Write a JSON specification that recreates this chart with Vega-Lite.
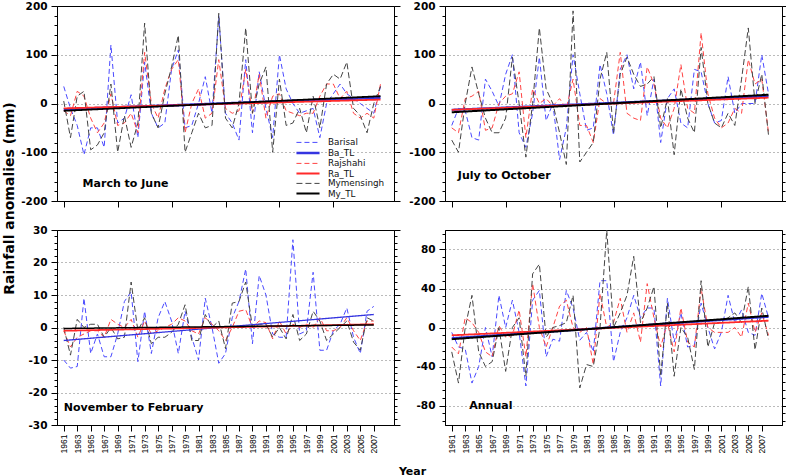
{
  "$schema": "https://vega.github.io/schema/vega-lite/v6.json",
  "padding": {"left": 1, "top": 0, "right": 2, "bottom": 2},
  "background": "white",
  "datasets": {
    "obs": [
      {"p":"MJ","year":1961,"Barisal":35,"Rajshahi":-15,"Mymensingh":5},
      {"p":"MJ","year":1962,"Barisal":-10,"Rajshahi":-25,"Mymensingh":-70},
      {"p":"MJ","year":1963,"Barisal":-45,"Rajshahi":25,"Mymensingh":15},
      {"p":"MJ","year":1964,"Barisal":-105,"Rajshahi":15,"Mymensingh":25},
      {"p":"MJ","year":1965,"Barisal":-50,"Rajshahi":-30,"Mymensingh":-95},
      {"p":"MJ","year":1966,"Barisal":-50,"Rajshahi":-60,"Mymensingh":-85},
      {"p":"MJ","year":1967,"Barisal":-90,"Rajshahi":-40,"Mymensingh":-60},
      {"p":"MJ","year":1968,"Barisal":120,"Rajshahi":20,"Mymensingh":40},
      {"p":"MJ","year":1969,"Barisal":-40,"Rajshahi":-45,"Mymensingh":-100},
      {"p":"MJ","year":1970,"Barisal":-30,"Rajshahi":-40,"Mymensingh":-25},
      {"p":"MJ","year":1971,"Barisal":18,"Rajshahi":-20,"Mymensingh":-90},
      {"p":"MJ","year":1972,"Barisal":-70,"Rajshahi":-60,"Mymensingh":-40},
      {"p":"MJ","year":1973,"Barisal":85,"Rajshahi":105,"Mymensingh":165},
      {"p":"MJ","year":1974,"Barisal":-20,"Rajshahi":0,"Mymensingh":-20},
      {"p":"MJ","year":1975,"Barisal":-50,"Rajshahi":-30,"Mymensingh":-50},
      {"p":"MJ","year":1976,"Barisal":-40,"Rajshahi":30,"Mymensingh":20},
      {"p":"MJ","year":1977,"Barisal":70,"Rajshahi":70,"Mymensingh":75},
      {"p":"MJ","year":1978,"Barisal":110,"Rajshahi":90,"Mymensingh":140},
      {"p":"MJ","year":1979,"Barisal":-50,"Rajshahi":-60,"Mymensingh":-100},
      {"p":"MJ","year":1980,"Barisal":-45,"Rajshahi":0,"Mymensingh":-60},
      {"p":"MJ","year":1981,"Barisal":0,"Rajshahi":30,"Mymensingh":-20},
      {"p":"MJ","year":1982,"Barisal":55,"Rajshahi":-30,"Mymensingh":-50},
      {"p":"MJ","year":1983,"Barisal":-20,"Rajshahi":-20,"Mymensingh":-45},
      {"p":"MJ","year":1984,"Barisal":180,"Rajshahi":90,"Mymensingh":185},
      {"p":"MJ","year":1985,"Barisal":-20,"Rajshahi":-10,"Mymensingh":-30},
      {"p":"MJ","year":1986,"Barisal":-40,"Rajshahi":-20,"Mymensingh":-50},
      {"p":"MJ","year":1987,"Barisal":-75,"Rajshahi":-15,"Mymensingh":0},
      {"p":"MJ","year":1988,"Barisal":90,"Rajshahi":70,"Mymensingh":155},
      {"p":"MJ","year":1989,"Barisal":-60,"Rajshahi":-20,"Mymensingh":-20},
      {"p":"MJ","year":1990,"Barisal":65,"Rajshahi":60,"Mymensingh":40},
      {"p":"MJ","year":1991,"Barisal":-10,"Rajshahi":-30,"Mymensingh":75},
      {"p":"MJ","year":1992,"Barisal":-70,"Rajshahi":15,"Mymensingh":-100},
      {"p":"MJ","year":1993,"Barisal":100,"Rajshahi":20,"Mymensingh":50},
      {"p":"MJ","year":1994,"Barisal":30,"Rajshahi":-15,"Mymensingh":-45},
      {"p":"MJ","year":1995,"Barisal":0,"Rajshahi":-20,"Mymensingh":-40},
      {"p":"MJ","year":1996,"Barisal":-20,"Rajshahi":-25,"Mymensingh":-10},
      {"p":"MJ","year":1997,"Barisal":-15,"Rajshahi":-20,"Mymensingh":-60},
      {"p":"MJ","year":1998,"Barisal":-10,"Rajshahi":-20,"Mymensingh":15},
      {"p":"MJ","year":1999,"Barisal":-70,"Rajshahi":15,"Mymensingh":-50},
      {"p":"MJ","year":2000,"Barisal":0,"Rajshahi":40,"Mymensingh":40},
      {"p":"MJ","year":2001,"Barisal":20,"Rajshahi":40,"Mymensingh":60},
      {"p":"MJ","year":2002,"Barisal":40,"Rajshahi":10,"Mymensingh":50},
      {"p":"MJ","year":2003,"Barisal":20,"Rajshahi":25,"Mymensingh":85},
      {"p":"MJ","year":2004,"Barisal":10,"Rajshahi":-20,"Mymensingh":-10},
      {"p":"MJ","year":2005,"Barisal":0,"Rajshahi":-30,"Mymensingh":-25},
      {"p":"MJ","year":2006,"Barisal":-10,"Rajshahi":-20,"Mymensingh":-60},
      {"p":"MJ","year":2007,"Barisal":-20,"Rajshahi":-30,"Mymensingh":0},
      {"p":"MJ","year":2008,"Barisal":35,"Rajshahi":40,"Mymensingh":35},

      {"p":"JO","year":1961,"Barisal":-45,"Rajshahi":-50,"Mymensingh":-75},
      {"p":"JO","year":1962,"Barisal":-10,"Rajshahi":-60,"Mymensingh":-100},
      {"p":"JO","year":1963,"Barisal":-15,"Rajshahi":10,"Mymensingh":0},
      {"p":"JO","year":1964,"Barisal":-70,"Rajshahi":15,"Mymensingh":75},
      {"p":"JO","year":1965,"Barisal":-75,"Rajshahi":25,"Mymensingh":20},
      {"p":"JO","year":1966,"Barisal":50,"Rajshahi":-55,"Mymensingh":-30},
      {"p":"JO","year":1967,"Barisal":25,"Rajshahi":-50,"Mymensingh":-60},
      {"p":"JO","year":1968,"Barisal":-5,"Rajshahi":0,"Mymensingh":-60},
      {"p":"JO","year":1969,"Barisal":60,"Rajshahi":15,"Mymensingh":-30},
      {"p":"JO","year":1970,"Barisal":100,"Rajshahi":20,"Mymensingh":95},
      {"p":"JO","year":1971,"Barisal":-60,"Rajshahi":65,"Mymensingh":0},
      {"p":"JO","year":1972,"Barisal":-90,"Rajshahi":-70,"Mymensingh":-110},
      {"p":"JO","year":1973,"Barisal":-20,"Rajshahi":30,"Mymensingh":0},
      {"p":"JO","year":1974,"Barisal":95,"Rajshahi":0,"Mymensingh":155},
      {"p":"JO","year":1975,"Barisal":-35,"Rajshahi":10,"Mymensingh":30},
      {"p":"JO","year":1976,"Barisal":0,"Rajshahi":-5,"Mymensingh":0},
      {"p":"JO","year":1977,"Barisal":-115,"Rajshahi":10,"Mymensingh":-60},
      {"p":"JO","year":1978,"Barisal":-50,"Rajshahi":-10,"Mymensingh":-125},
      {"p":"JO","year":1979,"Barisal":100,"Rajshahi":50,"Mymensingh":190},
      {"p":"JO","year":1980,"Barisal":20,"Rajshahi":-45,"Mymensingh":-120},
      {"p":"JO","year":1981,"Barisal":-55,"Rajshahi":-45,"Mymensingh":-100},
      {"p":"JO","year":1982,"Barisal":-50,"Rajshahi":-80,"Mymensingh":-80},
      {"p":"JO","year":1983,"Barisal":80,"Rajshahi":10,"Mymensingh":50},
      {"p":"JO","year":1984,"Barisal":20,"Rajshahi":0,"Mymensingh":105},
      {"p":"JO","year":1985,"Barisal":-65,"Rajshahi":0,"Mymensingh":-60},
      {"p":"JO","year":1986,"Barisal":70,"Rajshahi":105,"Mymensingh":60},
      {"p":"JO","year":1987,"Barisal":100,"Rajshahi":-20,"Mymensingh":95},
      {"p":"JO","year":1988,"Barisal":30,"Rajshahi":-30,"Mymensingh":60},
      {"p":"JO","year":1989,"Barisal":85,"Rajshahi":-35,"Mymensingh":35},
      {"p":"JO","year":1990,"Barisal":-25,"Rajshahi":75,"Mymensingh":40},
      {"p":"JO","year":1991,"Barisal":50,"Rajshahi":40,"Mymensingh":55},
      {"p":"JO","year":1992,"Barisal":-80,"Rajshahi":-30,"Mymensingh":-50},
      {"p":"JO","year":1993,"Barisal":10,"Rajshahi":-50,"Mymensingh":10},
      {"p":"JO","year":1994,"Barisal":30,"Rajshahi":-10,"Mymensingh":-105},
      {"p":"JO","year":1995,"Barisal":-40,"Rajshahi":80,"Mymensingh":30},
      {"p":"JO","year":1996,"Barisal":-50,"Rajshahi":-10,"Mymensingh":-30},
      {"p":"JO","year":1997,"Barisal":70,"Rajshahi":-20,"Mymensingh":-60},
      {"p":"JO","year":1998,"Barisal":65,"Rajshahi":145,"Mymensingh":115},
      {"p":"JO","year":1999,"Barisal":0,"Rajshahi":20,"Mymensingh":0},
      {"p":"JO","year":2000,"Barisal":-40,"Rajshahi":-30,"Mymensingh":-40},
      {"p":"JO","year":2001,"Barisal":-35,"Rajshahi":-50,"Mymensingh":-50},
      {"p":"JO","year":2002,"Barisal":55,"Rajshahi":-40,"Mymensingh":-20},
      {"p":"JO","year":2003,"Barisal":-20,"Rajshahi":-10,"Mymensingh":-45},
      {"p":"JO","year":2004,"Barisal":0,"Rajshahi":-20,"Mymensingh":50},
      {"p":"JO","year":2005,"Barisal":0,"Rajshahi":90,"Mymensingh":155},
      {"p":"JO","year":2006,"Barisal":0,"Rajshahi":40,"Mymensingh":0},
      {"p":"JO","year":2007,"Barisal":100,"Rajshahi":50,"Mymensingh":60},
      {"p":"JO","year":2008,"Barisal":20,"Rajshahi":-60,"Mymensingh":-65},

      {"p":"NF","year":1961,"Barisal":-10,"Rajshahi":-1,"Mymensingh":0},
      {"p":"NF","year":1962,"Barisal":-12.5,"Rajshahi":-6,"Mymensingh":-8.5},
      {"p":"NF","year":1963,"Barisal":-12,"Rajshahi":-3,"Mymensingh":2.5},
      {"p":"NF","year":1964,"Barisal":9,"Rajshahi":-2,"Mymensingh":0},
      {"p":"NF","year":1965,"Barisal":-8,"Rajshahi":-1,"Mymensingh":1},
      {"p":"NF","year":1966,"Barisal":-2,"Rajshahi":-1,"Mymensingh":1},
      {"p":"NF","year":1967,"Barisal":-9,"Rajshahi":-3,"Mymensingh":-3},
      {"p":"NF","year":1968,"Barisal":-9,"Rajshahi":2.5,"Mymensingh":0},
      {"p":"NF","year":1969,"Barisal":-2,"Rajshahi":1,"Mymensingh":-3.5},
      {"p":"NF","year":1970,"Barisal":8,"Rajshahi":0,"Mymensingh":-3},
      {"p":"NF","year":1971,"Barisal":11,"Rajshahi":2.5,"Mymensingh":14},
      {"p":"NF","year":1972,"Barisal":-10.5,"Rajshahi":-3,"Mymensingh":-1},
      {"p":"NF","year":1973,"Barisal":5,"Rajshahi":2,"Mymensingh":3},
      {"p":"NF","year":1974,"Barisal":-8,"Rajshahi":-2,"Mymensingh":-5},
      {"p":"NF","year":1975,"Barisal":3,"Rajshahi":-1,"Mymensingh":-3},
      {"p":"NF","year":1976,"Barisal":8,"Rajshahi":0,"Mymensingh":-3},
      {"p":"NF","year":1977,"Barisal":2,"Rajshahi":1,"Mymensingh":-1.5},
      {"p":"NF","year":1978,"Barisal":-8,"Rajshahi":3,"Mymensingh":1},
      {"p":"NF","year":1979,"Barisal":5,"Rajshahi":2,"Mymensingh":7},
      {"p":"NF","year":1980,"Barisal":-3,"Rajshahi":-1,"Mymensingh":-4},
      {"p":"NF","year":1981,"Barisal":-10,"Rajshahi":-2,"Mymensingh":-4},
      {"p":"NF","year":1982,"Barisal":9,"Rajshahi":3,"Mymensingh":4},
      {"p":"NF","year":1983,"Barisal":0,"Rajshahi":1,"Mymensingh":0},
      {"p":"NF","year":1984,"Barisal":-11,"Rajshahi":-1,"Mymensingh":2},
      {"p":"NF","year":1985,"Barisal":-8,"Rajshahi":-4,"Mymensingh":-6.5},
      {"p":"NF","year":1986,"Barisal":3,"Rajshahi":0,"Mymensingh":7.5},
      {"p":"NF","year":1987,"Barisal":8,"Rajshahi":5,"Mymensingh":8},
      {"p":"NF","year":1988,"Barisal":18,"Rajshahi":5.5,"Mymensingh":14},
      {"p":"NF","year":1989,"Barisal":-5,"Rajshahi":0,"Mymensingh":0},
      {"p":"NF","year":1990,"Barisal":16,"Rajshahi":2,"Mymensingh":1},
      {"p":"NF","year":1991,"Barisal":10,"Rajshahi":1.5,"Mymensingh":1},
      {"p":"NF","year":1992,"Barisal":-2,"Rajshahi":-3.5,"Mymensingh":-3},
      {"p":"NF","year":1993,"Barisal":-3,"Rajshahi":2,"Mymensingh":0},
      {"p":"NF","year":1994,"Barisal":-3,"Rajshahi":-2,"Mymensingh":-3.5},
      {"p":"NF","year":1995,"Barisal":27,"Rajshahi":1,"Mymensingh":4},
      {"p":"NF","year":1996,"Barisal":-2,"Rajshahi":0,"Mymensingh":-4},
      {"p":"NF","year":1997,"Barisal":-1,"Rajshahi":1,"Mymensingh":-2},
      {"p":"NF","year":1998,"Barisal":17,"Rajshahi":0,"Mymensingh":5},
      {"p":"NF","year":1999,"Barisal":-7,"Rajshahi":3,"Mymensingh":2},
      {"p":"NF","year":2000,"Barisal":-7,"Rajshahi":-1,"Mymensingh":-4},
      {"p":"NF","year":2001,"Barisal":-1,"Rajshahi":-1,"Mymensingh":-2},
      {"p":"NF","year":2002,"Barisal":1,"Rajshahi":0,"Mymensingh":0},
      {"p":"NF","year":2003,"Barisal":6,"Rajshahi":3,"Mymensingh":2},
      {"p":"NF","year":2004,"Barisal":-3,"Rajshahi":-1,"Mymensingh":-4.5},
      {"p":"NF","year":2005,"Barisal":-8,"Rajshahi":-4,"Mymensingh":-7},
      {"p":"NF","year":2006,"Barisal":5,"Rajshahi":2,"Mymensingh":3},
      {"p":"NF","year":2007,"Barisal":6.5,"Rajshahi":2,"Mymensingh":2},

      {"p":"AN","year":1961,"Barisal":-5,"Rajshahi":-20,"Mymensingh":-25},
      {"p":"AN","year":1962,"Barisal":-20,"Rajshahi":-27,"Mymensingh":-57},
      {"p":"AN","year":1963,"Barisal":-22,"Rajshahi":10,"Mymensingh":0},
      {"p":"AN","year":1964,"Barisal":-57,"Rajshahi":5,"Mymensingh":33},
      {"p":"AN","year":1965,"Barisal":-40,"Rajshahi":-5,"Mymensingh":-25},
      {"p":"AN","year":1966,"Barisal":0,"Rajshahi":-25,"Mymensingh":-40},
      {"p":"AN","year":1967,"Barisal":-30,"Rajshahi":-30,"Mymensingh":-35},
      {"p":"AN","year":1968,"Barisal":33,"Rajshahi":2,"Mymensingh":0},
      {"p":"AN","year":1969,"Barisal":0,"Rajshahi":-10,"Mymensingh":-45},
      {"p":"AN","year":1970,"Barisal":28,"Rajshahi":-8,"Mymensingh":0},
      {"p":"AN","year":1971,"Barisal":-5,"Rajshahi":18,"Mymensingh":10},
      {"p":"AN","year":1972,"Barisal":-60,"Rajshahi":-30,"Mymensingh":-50},
      {"p":"AN","year":1973,"Barisal":28,"Rajshahi":45,"Mymensingh":55},
      {"p":"AN","year":1974,"Barisal":38,"Rajshahi":0,"Mymensingh":65},
      {"p":"AN","year":1975,"Barisal":-30,"Rajshahi":-20,"Mymensingh":-10},
      {"p":"AN","year":1976,"Barisal":-12,"Rajshahi":0,"Mymensingh":0},
      {"p":"AN","year":1977,"Barisal":-14,"Rajshahi":22,"Mymensingh":2},
      {"p":"AN","year":1978,"Barisal":38,"Rajshahi":28,"Mymensingh":5},
      {"p":"AN","year":1979,"Barisal":20,"Rajshahi":0,"Mymensingh":33},
      {"p":"AN","year":1980,"Barisal":-13,"Rajshahi":-5,"Mymensingh":-62},
      {"p":"AN","year":1981,"Barisal":-5,"Rajshahi":0,"Mymensingh":-38},
      {"p":"AN","year":1982,"Barisal":-25,"Rajshahi":-38,"Mymensingh":-40},
      {"p":"AN","year":1983,"Barisal":48,"Rajshahi":35,"Mymensingh":0},
      {"p":"AN","year":1984,"Barisal":48,"Rajshahi":0,"Mymensingh":100},
      {"p":"AN","year":1985,"Barisal":-35,"Rajshahi":5,"Mymensingh":0},
      {"p":"AN","year":1986,"Barisal":-5,"Rajshahi":30,"Mymensingh":15},
      {"p":"AN","year":1987,"Barisal":10,"Rajshahi":-5,"Mymensingh":33},
      {"p":"AN","year":1988,"Barisal":33,"Rajshahi":15,"Mymensingh":73},
      {"p":"AN","year":1989,"Barisal":10,"Rajshahi":-15,"Mymensingh":5},
      {"p":"AN","year":1990,"Barisal":20,"Rajshahi":45,"Mymensingh":20},
      {"p":"AN","year":1991,"Barisal":20,"Rajshahi":10,"Mymensingh":42},
      {"p":"AN","year":1992,"Barisal":-60,"Rajshahi":-20,"Mymensingh":-50},
      {"p":"AN","year":1993,"Barisal":30,"Rajshahi":5,"Mymensingh":25},
      {"p":"AN","year":1994,"Barisal":-15,"Rajshahi":-25,"Mymensingh":-50},
      {"p":"AN","year":1995,"Barisal":15,"Rajshahi":20,"Mymensingh":0},
      {"p":"AN","year":1996,"Barisal":-20,"Rajshahi":-15,"Mymensingh":-10},
      {"p":"AN","year":1997,"Barisal":-18,"Rajshahi":-20,"Mymensingh":-43},
      {"p":"AN","year":1998,"Barisal":25,"Rajshahi":40,"Mymensingh":48},
      {"p":"AN","year":1999,"Barisal":0,"Rajshahi":0,"Mymensingh":-20},
      {"p":"AN","year":2000,"Barisal":-22,"Rajshahi":-5,"Mymensingh":5},
      {"p":"AN","year":2001,"Barisal":-5,"Rajshahi":-5,"Mymensingh":5},
      {"p":"AN","year":2002,"Barisal":33,"Rajshahi":-5,"Mymensingh":10},
      {"p":"AN","year":2003,"Barisal":5,"Rajshahi":0,"Mymensingh":15},
      {"p":"AN","year":2004,"Barisal":18,"Rajshahi":-10,"Mymensingh":5},
      {"p":"AN","year":2005,"Barisal":-5,"Rajshahi":25,"Mymensingh":42},
      {"p":"AN","year":2006,"Barisal":-8,"Rajshahi":-5,"Mymensingh":-23},
      {"p":"AN","year":2007,"Barisal":35,"Rajshahi":15,"Mymensingh":20},
      {"p":"AN","year":2008,"Barisal":10,"Rajshahi":-8,"Mymensingh":-12}
    ],
    "trend": [
      {"p":"MJ","series":"Ba_TL","year":1961,"value":-12},
      {"p":"MJ","series":"Ba_TL","year":2008,"value":12},
      {"p":"MJ","series":"Ra_TL","year":1961,"value":-10},
      {"p":"MJ","series":"Ra_TL","year":2008,"value":8},
      {"p":"MJ","series":"My_TL","year":1961,"value":-15},
      {"p":"MJ","series":"My_TL","year":2008,"value":15},
      {"p":"JO","series":"Ba_TL","year":1961,"value":-13},
      {"p":"JO","series":"Ba_TL","year":2008,"value":15},
      {"p":"JO","series":"Ra_TL","year":1961,"value":-13},
      {"p":"JO","series":"Ra_TL","year":2008,"value":12},
      {"p":"JO","series":"My_TL","year":1961,"value":-18},
      {"p":"JO","series":"My_TL","year":2008,"value":18},
      {"p":"NF","series":"Ba_TL","year":1961,"value":-4},
      {"p":"NF","series":"Ba_TL","year":2007,"value":4},
      {"p":"NF","series":"Ra_TL","year":1961,"value":-1},
      {"p":"NF","series":"Ra_TL","year":2007,"value":1},
      {"p":"NF","series":"My_TL","year":1961,"value":-0.3},
      {"p":"NF","series":"My_TL","year":2007,"value":0.8},
      {"p":"AN","series":"Ba_TL","year":1961,"value":-11},
      {"p":"AN","series":"Ba_TL","year":2008,"value":11},
      {"p":"AN","series":"Ra_TL","year":1961,"value":-8},
      {"p":"AN","series":"Ra_TL","year":2008,"value":7},
      {"p":"AN","series":"My_TL","year":1961,"value":-12},
      {"p":"AN","series":"My_TL","year":2008,"value":12}
    ]
  },
  "columns": 2,
  "bounds": "flush",
  "spacing": {"row": 29, "column": 51},
  "resolve": {
    "scale": {"color": "independent", "strokeDash": "independent", "strokeWidth": "independent"},
    "legend": {"color": "independent", "strokeDash": "independent", "strokeWidth": "independent"}
  },
  "concat": [
    {
      "width": 337, "height": 195,
      "layer": [
        {
          "data": {"name": "obs"},
          "transform": [{"filter": "datum.p === 'MJ'"}, {"fold": ["Barisal", "Rajshahi", "Mymensingh"], "as": ["series", "value"]}],
          "mark": {"type": "line", "clip": true},
          "encoding": {
            "x": {"field": "year", "type": "quantitative", "scale": {"domain": [1960, 2010], "nice": false, "zero": false},
              "axis": {"values": [1961,1963,1965,1967,1969,1971,1973,1975,1977,1979,1981,1983,1985,1987,1989,1991,1993,1995,1997,1999,2001,2003,2005,2007], "labels": false, "tickSize": 6, "grid": false, "title": null}},
            "y": {"field": "value", "type": "quantitative", "scale": {"domain": [-200, 200], "nice": false},
              "axis": {"orient": "left", "values": [-200,-180,-160,-140,-120,-100,-80,-60,-40,-20,0,20,40,60,80,100,120,140,160,180,200],
                "labelExpr": "datum.value % 100 === 0 ? '' + datum.value : ''", "labelOverlap": false, "labelPadding": 4,
                "tickSize": {"condition": {"test": "datum.value % 100 === 0", "value": 6}, "value": 3},
                "grid": true, "gridDash": [1, 3], "gridColor": "#777",
                "gridOpacity": {"condition": {"test": "datum.value % 100 === 0 && abs(datum.value) < 200", "value": 1}, "value": 0},
                "title": "Rainfall anomalies (mm)", "titleX": -41, "titleY": 192, "titleAlign": "center", "titleFontSize": 14}},
            "color": {"field": "series", "type": "nominal",
              "scale": {"domain": ["Barisal","Ba_TL","Rajshahi","Ra_TL","Mymensingh","My_TL"], "range": ["#4a4aff","#3535e0","#ff4444","#ff2a2a","#444444","#000000"]},
              "legend": {"orient": "none", "legendX": 246, "legendY": 132, "title": null, "symbolType": "M-3.3,0H3.3", "symbolSize": 49, "labelFont": "DejaVu Sans", "labelFontWeight": "normal", "labelFontSize": 8.8, "labelOffset": 15, "rowPadding": -1.3, "labelColor": "#111"}},
            "strokeDash": {"field": "series", "type": "nominal",
              "scale": {"type": "ordinal", "domain": ["Barisal","Ba_TL","Rajshahi","Ra_TL","Mymensingh","My_TL"], "range": [[5,3],[1,0],[5,3],[1,0],[6,3],[1,0]]},
              "legend": {"orient": "none", "legendX": 246, "legendY": 132, "title": null, "symbolType": "M-3.3,0H3.3", "symbolSize": 49, "labelFont": "DejaVu Sans", "labelFontWeight": "normal", "labelFontSize": 8.8, "labelOffset": 15, "rowPadding": -1.3, "labelColor": "#111"}},
            "strokeWidth": {"field": "series", "type": "nominal",
              "scale": {"type": "ordinal", "domain": ["Barisal","Ba_TL","Rajshahi","Ra_TL","Mymensingh","My_TL"], "range": [1,2.6,1,1.8,1,1.8]},
              "legend": {"orient": "none", "legendX": 246, "legendY": 132, "title": null, "symbolType": "M-3.3,0H3.3", "symbolSize": 49, "labelFont": "DejaVu Sans", "labelFontWeight": "normal", "labelFontSize": 8.8, "labelOffset": 15, "rowPadding": -1.3, "labelColor": "#111"}}
          }
        },
        {
          "data": {"name": "trend"},
          "transform": [{"filter": "datum.p === 'MJ'"}],
          "mark": {"type": "line"},
          "encoding": {
            "x": {"field": "year", "type": "quantitative", "axis": {"title": null}},
            "y": {"field": "value", "type": "quantitative",
              "axis": {"orient": "right", "values": [-200,-180,-160,-140,-120,-100,-80,-60,-40,-20,0,20,40,60,80,100,120,140,160,180,200], "labels": false, "grid": false, "title": null,
                "tickSize": {"condition": {"test": "datum.value % 100 === 0", "value": 6}, "value": 3}}},
            "color": {"field": "series", "type": "nominal",
              "scale": {"domain": ["Barisal","Ba_TL","Rajshahi","Ra_TL","Mymensingh","My_TL"], "range": ["#4a4aff","#3535e0","#ff4444","#ff2a2a","#444444","#000000"]}},
            "strokeDash": {"field": "series", "type": "nominal",
              "scale": {"type": "ordinal", "domain": ["Barisal","Ba_TL","Rajshahi","Ra_TL","Mymensingh","My_TL"], "range": [[5,3],[1,0],[5,3],[1,0],[6,3],[1,0]]}},
            "strokeWidth": {"field": "series", "type": "nominal",
              "scale": {"type": "ordinal", "domain": ["Barisal","Ba_TL","Rajshahi","Ra_TL","Mymensingh","My_TL"], "range": [1,2.6,1,1.8,1,1.8]}}
          }
        },
        {
          "data": {"values": [{}]},
          "mark": {"type": "text", "text": "March to June", "font": "DejaVu Sans", "fontWeight": "bold", "fontSize": 11, "align": "left", "baseline": "middle", "color": "#000"},
          "encoding": {
            "x": {"datum": 1963.8, "type": "quantitative", "axis": {"title": null}},
            "y": {"datum": -165, "type": "quantitative", "axis": null}
          }
        }
      ],
      "resolve": {"axis": {"y": "independent"}}
    },
    {
      "width": 337, "height": 195,
      "layer": [
        {
          "data": {"name": "obs"},
          "transform": [{"filter": "datum.p === 'JO'"}, {"fold": ["Barisal", "Rajshahi", "Mymensingh"], "as": ["series", "value"]}],
          "mark": {"type": "line", "clip": true},
          "encoding": {
            "x": {"field": "year", "type": "quantitative", "scale": {"domain": [1960, 2010], "nice": false, "zero": false},
              "axis": {"values": [1961,1963,1965,1967,1969,1971,1973,1975,1977,1979,1981,1983,1985,1987,1989,1991,1993,1995,1997,1999,2001,2003,2005,2007], "labels": false, "tickSize": 6, "grid": false, "title": null}},
            "y": {"field": "value", "type": "quantitative", "scale": {"domain": [-200, 200], "nice": false},
              "axis": {"orient": "left", "values": [-200,-180,-160,-140,-120,-100,-80,-60,-40,-20,0,20,40,60,80,100,120,140,160,180,200],
                "labelExpr": "datum.value % 100 === 0 ? '' + datum.value : ''", "labelOverlap": false, "labelPadding": 4,
                "tickSize": {"condition": {"test": "datum.value % 100 === 0", "value": 6}, "value": 3},
                "grid": true, "gridDash": [1, 3], "gridColor": "#777",
                "gridOpacity": {"condition": {"test": "datum.value % 100 === 0 && abs(datum.value) < 200", "value": 1}, "value": 0},
                "title": null}},
            "color": {"field": "series", "type": "nominal",
              "scale": {"domain": ["Barisal","Ba_TL","Rajshahi","Ra_TL","Mymensingh","My_TL"], "range": ["#4a4aff","#3535e0","#ff4444","#ff2a2a","#444444","#000000"]}, "legend": null},
            "strokeDash": {"field": "series", "type": "nominal",
              "scale": {"type": "ordinal", "domain": ["Barisal","Ba_TL","Rajshahi","Ra_TL","Mymensingh","My_TL"], "range": [[5,3],[1,0],[5,3],[1,0],[6,3],[1,0]]}, "legend": null},
            "strokeWidth": {"field": "series", "type": "nominal",
              "scale": {"type": "ordinal", "domain": ["Barisal","Ba_TL","Rajshahi","Ra_TL","Mymensingh","My_TL"], "range": [1,2.2,1,1.8,1,2]}, "legend": null}
          }
        },
        {
          "data": {"name": "trend"},
          "transform": [{"filter": "datum.p === 'JO'"}],
          "mark": {"type": "line"},
          "encoding": {
            "x": {"field": "year", "type": "quantitative", "axis": {"title": null}},
            "y": {"field": "value", "type": "quantitative",
              "axis": {"orient": "right", "values": [-200,-180,-160,-140,-120,-100,-80,-60,-40,-20,0,20,40,60,80,100,120,140,160,180,200], "labels": false, "grid": false, "title": null,
                "tickSize": {"condition": {"test": "datum.value % 100 === 0", "value": 6}, "value": 3}}},
            "color": {"field": "series", "type": "nominal",
              "scale": {"domain": ["Barisal","Ba_TL","Rajshahi","Ra_TL","Mymensingh","My_TL"], "range": ["#4a4aff","#3535e0","#ff4444","#ff2a2a","#444444","#000000"]}, "legend": null},
            "strokeDash": {"field": "series", "type": "nominal",
              "scale": {"type": "ordinal", "domain": ["Barisal","Ba_TL","Rajshahi","Ra_TL","Mymensingh","My_TL"], "range": [[5,3],[1,0],[5,3],[1,0],[6,3],[1,0]]}, "legend": null},
            "strokeWidth": {"field": "series", "type": "nominal",
              "scale": {"type": "ordinal", "domain": ["Barisal","Ba_TL","Rajshahi","Ra_TL","Mymensingh","My_TL"], "range": [1,2.2,1,1.8,1,2]}, "legend": null}
          }
        },
        {
          "data": {"values": [{}]},
          "mark": {"type": "text", "text": "July to October", "font": "DejaVu Sans", "fontWeight": "bold", "fontSize": 11, "align": "left", "baseline": "middle", "color": "#000"},
          "encoding": {
            "x": {"datum": 1961.9, "type": "quantitative", "axis": {"title": null}},
            "y": {"datum": -149, "type": "quantitative", "axis": null}
          }
        }
      ],
      "resolve": {"axis": {"y": "independent"}}
    },
    {
      "width": 337, "height": 195,
      "layer": [
        {
          "data": {"name": "obs"},
          "transform": [{"filter": "datum.p === 'NF'"}, {"fold": ["Barisal", "Rajshahi", "Mymensingh"], "as": ["series", "value"]}],
          "mark": {"type": "line", "clip": true},
          "encoding": {
            "x": {"field": "year", "type": "quantitative", "scale": {"domain": [1960, 2010], "nice": false, "zero": false},
              "axis": {"values": [1961,1963,1965,1967,1969,1971,1973,1975,1977,1979,1981,1983,1985,1987,1989,1991,1993,1995,1997,1999,2001,2003,2005,2007], "labelAngle": 270, "labelExpr": "'' + datum.value", "labelFont": "Liberation Sans", "labelFontWeight": "normal", "labelFontSize": 8.5, "labelPadding": 3, "labelOverlap": false, "labelFlush": false, "labelBound": false, "tickSize": 6, "grid": false, "title": null}},
            "y": {"field": "value", "type": "quantitative", "scale": {"domain": [-30, 30], "nice": false},
              "axis": {"orient": "left", "values": [-30,-28,-26,-24,-22,-20,-18,-16,-14,-12,-10,-8,-6,-4,-2,0,2,4,6,8,10,12,14,16,18,20,22,24,26,28,30],
                "labelExpr": "datum.value % 10 === 0 ? '' + datum.value : ''", "labelOverlap": false, "labelPadding": 4,
                "tickSize": {"condition": {"test": "datum.value % 10 === 0", "value": 6}, "value": 3},
                "grid": true, "gridDash": [1, 3], "gridColor": "#777",
                "gridOpacity": {"condition": {"test": "datum.value % 10 === 0 && abs(datum.value) < 30", "value": 1}, "value": 0},
                "title": null}},
            "color": {"field": "series", "type": "nominal",
              "scale": {"domain": ["Barisal","Ba_TL","Rajshahi","Ra_TL","Mymensingh","My_TL"], "range": ["#4a4aff","#3535e0","#ff4444","#ff2a2a","#444444","#000000"]}, "legend": null},
            "strokeDash": {"field": "series", "type": "nominal",
              "scale": {"type": "ordinal", "domain": ["Barisal","Ba_TL","Rajshahi","Ra_TL","Mymensingh","My_TL"], "range": [[5,3],[1,0],[5,3],[1,0],[6,3],[1,0]]}, "legend": null},
            "strokeWidth": {"field": "series", "type": "nominal",
              "scale": {"type": "ordinal", "domain": ["Barisal","Ba_TL","Rajshahi","Ra_TL","Mymensingh","My_TL"], "range": [1,1.3,1,1.8,1,1.5]}, "legend": null}
          }
        },
        {
          "data": {"name": "trend"},
          "transform": [{"filter": "datum.p === 'NF'"}],
          "mark": {"type": "line"},
          "encoding": {
            "x": {"field": "year", "type": "quantitative", "axis": {"values": [1961,1963,1965,1967,1969,1971,1973,1975,1977,1979,1981,1983,1985,1987,1989,1991,1993,1995,1997,1999,2001,2003,2005,2007], "labelOverlap": false, "title": null}},
            "y": {"field": "value", "type": "quantitative",
              "axis": {"orient": "right", "values": [-30,-28,-26,-24,-22,-20,-18,-16,-14,-12,-10,-8,-6,-4,-2,0,2,4,6,8,10,12,14,16,18,20,22,24,26,28,30], "labels": false, "grid": false, "title": null,
                "tickSize": {"condition": {"test": "datum.value % 10 === 0", "value": 6}, "value": 3}}},
            "color": {"field": "series", "type": "nominal",
              "scale": {"domain": ["Barisal","Ba_TL","Rajshahi","Ra_TL","Mymensingh","My_TL"], "range": ["#4a4aff","#3535e0","#ff4444","#ff2a2a","#444444","#000000"]}, "legend": null},
            "strokeDash": {"field": "series", "type": "nominal",
              "scale": {"type": "ordinal", "domain": ["Barisal","Ba_TL","Rajshahi","Ra_TL","Mymensingh","My_TL"], "range": [[5,3],[1,0],[5,3],[1,0],[6,3],[1,0]]}, "legend": null},
            "strokeWidth": {"field": "series", "type": "nominal",
              "scale": {"type": "ordinal", "domain": ["Barisal","Ba_TL","Rajshahi","Ra_TL","Mymensingh","My_TL"], "range": [1,1.3,1,1.8,1,1.5]}, "legend": null}
          }
        },
        {
          "data": {"values": [{}]},
          "mark": {"type": "text", "text": "November to February", "font": "DejaVu Sans", "fontWeight": "bold", "fontSize": 11, "align": "left", "baseline": "middle", "color": "#000"},
          "encoding": {
            "x": {"datum": 1961.0, "type": "quantitative", "axis": {"values": [1961,1963,1965,1967,1969,1971,1973,1975,1977,1979,1981,1983,1985,1987,1989,1991,1993,1995,1997,1999,2001,2003,2005,2007], "labelOverlap": false, "title": null}},
            "y": {"datum": -24.8, "type": "quantitative", "axis": null}
          }
        }
      ],
      "resolve": {"axis": {"y": "independent"}}
    },
    {
      "width": 337, "height": 195,
      "layer": [
        {
          "data": {"name": "obs"},
          "transform": [{"filter": "datum.p === 'AN'"}, {"fold": ["Barisal", "Rajshahi", "Mymensingh"], "as": ["series", "value"]}],
          "mark": {"type": "line", "clip": true},
          "encoding": {
            "x": {"field": "year", "type": "quantitative", "scale": {"domain": [1960, 2010], "nice": false, "zero": false},
              "axis": {"values": [1961,1963,1965,1967,1969,1971,1973,1975,1977,1979,1981,1983,1985,1987,1989,1991,1993,1995,1997,1999,2001,2003,2005,2007], "labelAngle": 270, "labelExpr": "'' + datum.value", "labelFont": "Liberation Sans", "labelFontWeight": "normal", "labelFontSize": 8.5, "labelPadding": 3, "labelOverlap": false, "labelFlush": false, "labelBound": false, "tickSize": 6, "grid": false,
                "title": "Year", "titleX": -33, "titleY": 46, "titleAlign": "center", "titleBaseline": "middle", "titleFontSize": 11}},
            "y": {"field": "value", "type": "quantitative", "scale": {"domain": [-100, 100], "nice": false},
              "axis": {"orient": "left", "values": [-96,-88,-80,-72,-64,-56,-48,-40,-32,-24,-16,-8,0,8,16,24,32,40,48,56,64,72,80,88,96],
                "labelExpr": "datum.value % 40 === 0 ? '' + datum.value : ''", "labelOverlap": false, "labelPadding": 4,
                "tickSize": {"condition": {"test": "datum.value % 40 === 0", "value": 6}, "value": 3},
                "grid": true, "gridDash": [1, 3], "gridColor": "#777",
                "gridOpacity": {"condition": {"test": "datum.value % 40 === 0", "value": 1}, "value": 0},
                "title": null}},
            "color": {"field": "series", "type": "nominal",
              "scale": {"domain": ["Barisal","Ba_TL","Rajshahi","Ra_TL","Mymensingh","My_TL"], "range": ["#4a4aff","#3535e0","#ff4444","#ff2a2a","#444444","#000000"]}, "legend": null},
            "strokeDash": {"field": "series", "type": "nominal",
              "scale": {"type": "ordinal", "domain": ["Barisal","Ba_TL","Rajshahi","Ra_TL","Mymensingh","My_TL"], "range": [[5,3],[1,0],[5,3],[1,0],[6,3],[1,0]]}, "legend": null},
            "strokeWidth": {"field": "series", "type": "nominal",
              "scale": {"type": "ordinal", "domain": ["Barisal","Ba_TL","Rajshahi","Ra_TL","Mymensingh","My_TL"], "range": [1,2.2,1,1.8,1,2]}, "legend": null}
          }
        },
        {
          "data": {"name": "trend"},
          "transform": [{"filter": "datum.p === 'AN'"}],
          "mark": {"type": "line"},
          "encoding": {
            "x": {"field": "year", "type": "quantitative", "axis": {"values": [1961,1963,1965,1967,1969,1971,1973,1975,1977,1979,1981,1983,1985,1987,1989,1991,1993,1995,1997,1999,2001,2003,2005,2007], "labelOverlap": false, "title": "Year"}},
            "y": {"field": "value", "type": "quantitative",
              "axis": {"orient": "right", "values": [-96,-88,-80,-72,-64,-56,-48,-40,-32,-24,-16,-8,0,8,16,24,32,40,48,56,64,72,80,88,96], "labels": false, "grid": false, "title": null,
                "tickSize": {"condition": {"test": "datum.value % 40 === 0", "value": 6}, "value": 3}}},
            "color": {"field": "series", "type": "nominal",
              "scale": {"domain": ["Barisal","Ba_TL","Rajshahi","Ra_TL","Mymensingh","My_TL"], "range": ["#4a4aff","#3535e0","#ff4444","#ff2a2a","#444444","#000000"]}, "legend": null},
            "strokeDash": {"field": "series", "type": "nominal",
              "scale": {"type": "ordinal", "domain": ["Barisal","Ba_TL","Rajshahi","Ra_TL","Mymensingh","My_TL"], "range": [[5,3],[1,0],[5,3],[1,0],[6,3],[1,0]]}, "legend": null},
            "strokeWidth": {"field": "series", "type": "nominal",
              "scale": {"type": "ordinal", "domain": ["Barisal","Ba_TL","Rajshahi","Ra_TL","Mymensingh","My_TL"], "range": [1,2.2,1,1.8,1,2]}, "legend": null}
          }
        },
        {
          "data": {"values": [{}]},
          "mark": {"type": "text", "text": "Annual", "font": "DejaVu Sans", "fontWeight": "bold", "fontSize": 11, "align": "left", "baseline": "middle", "color": "#000"},
          "encoding": {
            "x": {"datum": 1963.6, "type": "quantitative", "axis": {"values": [1961,1963,1965,1967,1969,1971,1973,1975,1977,1979,1981,1983,1985,1987,1989,1991,1993,1995,1997,1999,2001,2003,2005,2007], "labelOverlap": false, "title": "Year"}},
            "y": {"datum": -80.5, "type": "quantitative", "axis": null}
          }
        }
      ],
      "resolve": {"axis": {"y": "independent"}}
    }
  ],
  "config": {
    "view": {"stroke": "#000", "strokeWidth": 1},
    "axis": {
      "domainColor": "#000", "tickColor": "#000", "labelColor": "#000", "titleColor": "#000",
      "labelFont": "DejaVu Sans", "labelFontWeight": "bold", "labelFontSize": 10.5,
      "titleFont": "DejaVu Sans", "titleFontWeight": "bold"
    },
    "axisX": {"labelOverlap": false},
    "line": {"strokeCap": "butt"}
  }
}
